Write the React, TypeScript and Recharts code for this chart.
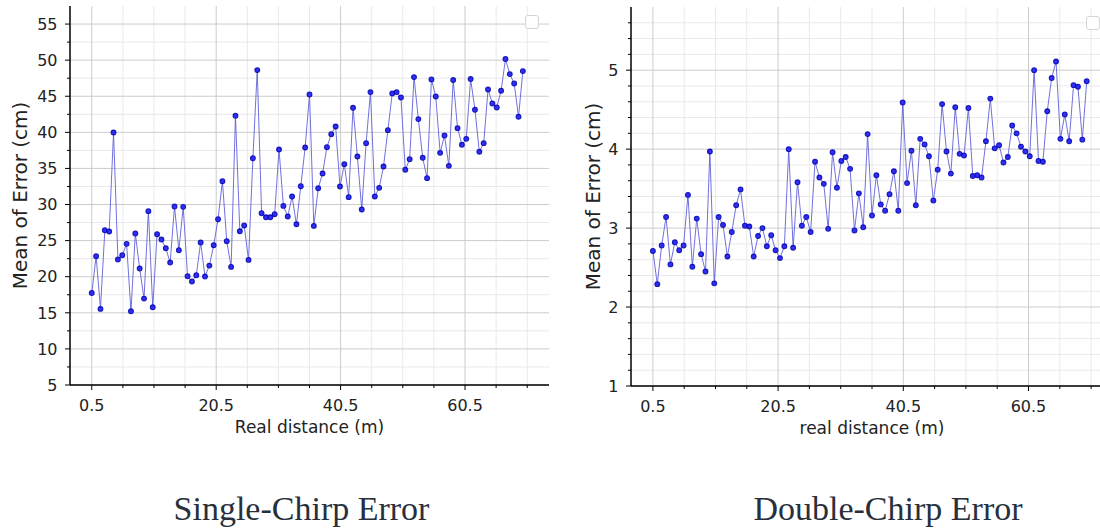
import React from 'react';
import { LineChart, Line, XAxis, YAxis, CartesianGrid } from 'recharts';

const distances = [
  0.5, 1.2, 1.9, 2.6, 3.3, 4.0, 4.7, 5.4, 6.1, 6.8,
  7.5, 8.2, 8.9, 9.6, 10.3, 11.0, 11.7, 12.4, 13.1, 13.8,
  14.5, 15.2, 15.9, 16.6, 17.3, 18.0, 18.7, 19.4, 20.1, 20.8,
  21.5, 22.2, 22.9, 23.6, 24.3, 25.0, 25.7, 26.4, 27.1, 27.8,
  28.5, 29.2, 29.9, 30.6, 31.3, 32.0, 32.7, 33.4, 34.1, 34.8,
  35.5, 36.2, 36.9, 37.6, 38.3, 39.0, 39.7, 40.4, 41.1, 41.8,
  42.5, 43.2, 43.9, 44.6, 45.3, 46.0, 46.7, 47.4, 48.1, 48.8,
  49.5, 50.2, 50.9, 51.6, 52.3, 53.0, 53.7, 54.4, 55.1, 55.8,
  56.5, 57.2, 57.9, 58.6, 59.3, 60.0, 60.7, 61.4, 62.1, 62.8,
  63.5, 64.2, 64.9, 65.6, 66.3, 67.0, 67.7, 68.4, 69.1, 69.8,
];

const singleChirpError = [
  17.75, 22.84, 15.54, 26.44, 26.26, 39.98, 22.38, 22.98, 24.55, 15.21,
  25.98, 21.13, 16.97, 29.08, 15.77, 25.89, 25.15, 23.95, 21.96, 29.72,
  23.67, 29.68, 20.06, 19.33, 20.2, 24.73, 20.02, 21.54, 24.36, 27.97,
  33.23, 24.92, 21.36, 42.29, 26.3, 27.09, 22.33, 36.42, 48.62, 28.8,
  28.24, 28.24, 28.66, 37.62, 29.81, 28.34, 31.11, 27.27, 32.54, 37.9,
  45.25, 27.04, 32.26, 34.3, 37.95, 39.75, 40.81, 32.5, 35.59, 31.02,
  43.4, 36.65, 29.31, 38.5, 45.57, 31.11, 32.31, 35.27, 40.3, 45.39,
  45.57, 44.83, 34.81, 36.28, 47.65, 41.83, 36.47, 33.65, 47.33, 44.97,
  37.16, 39.57, 35.36, 47.24, 40.58, 38.27, 39.1, 47.38, 43.12, 37.3,
  38.5, 45.94, 44.0, 43.45, 45.76, 50.15, 48.07, 46.77, 42.15, 48.48,
];

const doubleChirpError = [
  2.71, 2.29, 2.78, 3.14, 2.54, 2.82, 2.72, 2.78, 3.42, 2.51,
  3.12, 2.67, 2.45, 3.97, 2.3, 3.14, 3.04, 2.64, 2.95, 3.29,
  3.49, 3.03, 3.02, 2.64, 2.9, 3.0, 2.77, 2.91, 2.72, 2.62,
  2.77, 4.0, 2.75, 3.58, 3.03, 3.14, 2.95, 3.84, 3.64, 3.56,
  2.99, 3.96, 3.51, 3.85, 3.9, 3.75, 2.97, 3.44, 3.01, 4.19,
  3.16, 3.67, 3.3, 3.22, 3.43, 3.72, 3.22, 4.59, 3.57, 3.98,
  3.29, 4.13, 4.06, 3.91, 3.35, 3.74, 4.57, 3.97, 3.69, 4.53,
  3.94, 3.92, 4.52, 3.66, 3.67, 3.64, 4.1, 4.64, 4.01, 4.05,
  3.83, 3.9, 4.3, 4.2, 4.03, 3.97, 3.91, 5.0, 3.85, 3.84,
  4.48, 4.9, 5.11, 4.13, 4.44, 4.1, 4.81, 4.79, 4.12, 4.86,
];

const xMajorTicks = [0.5, 20.5, 40.5, 60.5];
const xMinorTicks = [5.5, 10.5, 15.5, 25.5, 30.5, 35.5, 45.5, 50.5, 55.5, 65.5, 70.5];
const singleYMajor = [5, 10, 15, 20, 25, 30, 35, 40, 45, 50, 55];
const singleYMinor = [7.5, 12.5, 17.5, 22.5, 27.5, 32.5, 37.5, 42.5, 47.5, 52.5];
const doubleYMajor = [1, 2, 3, 4, 5];
const doubleYMinor = [
  1.2, 1.4, 1.6, 1.8, 2.2, 2.4, 2.6, 2.8, 3.2, 3.4, 3.6, 3.8,
  4.2, 4.4, 4.6, 4.8, 5.2, 5.4, 5.6,
];

const TICK_FONT = '"DejaVu Sans", sans-serif';
const TEXT_COLOR = '#222';

type ChartProps = {
  values: number[];
  yDomain: [number, number];
  yMajor: number[];
  yMinor: number[];
  xLabel: string;
  yLabelGap: number;
  width: number;
  top: number;
  axisWidth: number;
};

function ErrorChart({ values, yDomain, yMajor, yMinor, xLabel, yLabelGap, width, top, axisWidth }: ChartProps) {
  const data = distances.map((d, i) => ({ d, v: values[i] }));

  const yTick = (props: any) => {
    const { x, y, payload } = props;
    const major = yMajor.includes(payload.value);
    return (
      <g>
        <line x1={x - (major ? 5 : 3)} x2={x} y1={y} y2={y} stroke="#000" strokeWidth={1} />
        {major && (
          <text x={x - 12.5} y={y} dy="0.36em" textAnchor="end" fontSize={16} fontFamily={TICK_FONT} fill={TEXT_COLOR}>
            {payload.value}
          </text>
        )}
      </g>
    );
  };

  const xTick = (props: any) => {
    const { x, y, payload } = props;
    const major = xMajorTicks.includes(payload.value);
    return (
      <g>
        <line x1={x} x2={x} y1={y} y2={y + (major ? 5 : 3)} stroke="#000" strokeWidth={1} />
        {major && (
          <text x={x} y={y + 26} textAnchor="middle" fontSize={16} fontFamily={TICK_FONT} fill={TEXT_COLOR}>
            {payload.value}
          </text>
        )}
      </g>
    );
  };

  const xLabelContent = (props: any) => {
    const vb = props.viewBox;
    return (
      <text x={vb.x + vb.width / 2} y={vb.y + 48} textAnchor="middle" fontSize={17} fontFamily={TICK_FONT} fill={TEXT_COLOR}>
        {xLabel}
      </text>
    );
  };

  const yLabelContent = (props: any) => {
    const vb = props.viewBox;
    const cx = vb.x + vb.width - yLabelGap;
    const cy = vb.y + vb.height / 2;
    return (
      <text
        x={cx}
        y={cy}
        transform={`rotate(-90 ${cx} ${cy})`}
        textAnchor="middle"
        dominantBaseline="central"
        fontSize={20}
        fontFamily={TICK_FONT}
        fill={TEXT_COLOR}
      >
        Mean of Error (cm)
      </text>
    );
  };

  return (
    <LineChart width={width} height={440 + top - 6} data={data} margin={{ top, right: 0, bottom: 0, left: 0 }}>
      <CartesianGrid horizontalValues={yMinor} verticalValues={xMinorTicks} stroke="#e9e9e9" strokeWidth={1} />
      <CartesianGrid horizontalValues={yMajor} verticalValues={xMajorTicks} stroke="#cccccc" strokeWidth={1} />
      <XAxis
        type="number"
        dataKey="d"
        domain={[-3, 74]}
        ticks={[...xMajorTicks, ...xMinorTicks]}
        interval={0}
        height={55}
        tickSize={0}
        tickMargin={0}
        tickLine={false}
        tick={xTick}
        axisLine={{ stroke: '#000', strokeWidth: 1.5 }}
        label={{ content: xLabelContent }}
      />
      <XAxis
        xAxisId="frameTop"
        orientation="top"
        type="number"
        domain={[-3, 74]}
        height={0}
        tick={false}
        tickLine={false}
        axisLine={{ stroke: '#000', strokeWidth: 1.5 }}
      />
      <YAxis
        type="number"
        domain={yDomain}
        ticks={[...yMajor, ...yMinor]}
        interval={0}
        width={axisWidth}
        tickSize={0}
        tickMargin={0}
        tickLine={false}
        tick={yTick}
        axisLine={{ stroke: '#000', strokeWidth: 1.5 }}
        label={{ content: yLabelContent }}
      />
      <YAxis
        yAxisId="frameRight"
        orientation="right"
        type="number"
        domain={yDomain}
        width={0}
        tick={false}
        tickLine={false}
        axisLine={{ stroke: '#000', strokeWidth: 1.5 }}
      />
      <Line
        type="linear"
        dataKey="v"
        stroke="#5858d8"
        strokeWidth={1}
        strokeOpacity={0.85}
        dot={{ r: 2.4, fill: '#3030f2', stroke: '#0000b0', strokeWidth: 1.1, fillOpacity: 1 }}
        activeDot={false}
        isAnimationActive={false}
      />
    </LineChart>
  );
}

const legendBox: React.CSSProperties = {
  position: 'absolute',
  width: 14,
  height: 14,
  border: '1.5px solid #d4d4d4',
  borderRadius: 3,
  boxSizing: 'border-box',
  background: '#fff',
};

const titleStyle: React.CSSProperties = {
  position: 'absolute',
  fontFamily: '"Liberation Serif", "Times New Roman", serif',
  fontSize: 34,
  color: '#27303c',
  whiteSpace: 'nowrap',
  transform: 'translateX(-50%)',
  lineHeight: '40px',
};

export default function App() {
  return (
    <div
      style={{
        position: 'fixed',
        left: 0,
        top: 0,
        width: 1100,
        height: 531,
        overflow: 'hidden',
        background: '#fff',
      }}
    >
      <div style={{ position: 'absolute', left: 0, top: 0 }}>
        <ErrorChart
          values={singleChirpError}
          yDomain={[5, 57.5]}
          yMajor={singleYMajor}
          yMinor={singleYMinor}
          xLabel="Real distance (m)"
          yLabelGap={50}
          width={549}
          top={6}
          axisWidth={70}
        />
      </div>
      <div style={{ position: 'absolute', left: 560, top: 0 }}>
        <ErrorChart
          values={doubleChirpError}
          yDomain={[1, 5.8]}
          yMajor={doubleYMajor}
          yMinor={doubleYMinor}
          xLabel="real distance (m)"
          yLabelGap={38}
          width={553}
          top={7}
          axisWidth={71}
        />
      </div>
      <div style={{ ...legendBox, left: 525, top: 14.5 }} />
      <div style={{ ...legendBox, left: 1086, top: 16 }} />
      <div style={{ ...titleStyle, left: 301.5, top: 489 }}>Single-Chirp Error</div>
      <div style={{ ...titleStyle, left: 888, top: 489 }}>Double-Chirp Error</div>
    </div>
  );
}
